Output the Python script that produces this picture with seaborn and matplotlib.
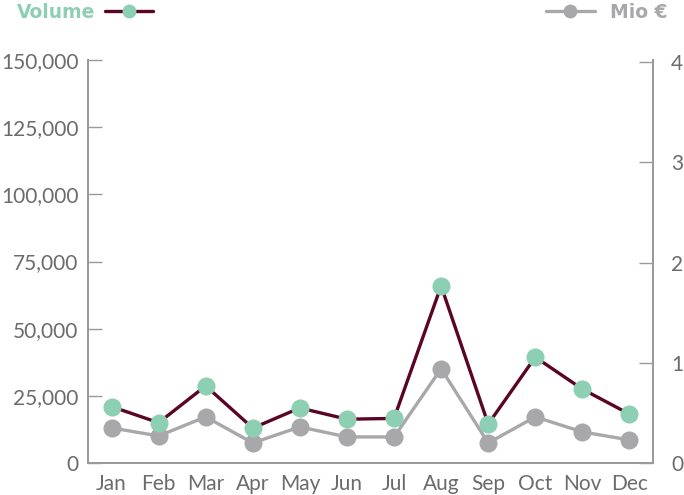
import matplotlib
matplotlib.use("Agg")
import matplotlib.pyplot as plt
import seaborn as sns
import pandas as pd
import numpy as np
from matplotlib.lines import Line2D
from matplotlib.ticker import FuncFormatter, FixedLocator

months = ["Jan", "Feb", "Mar", "Apr", "May", "Jun", "Jul", "Aug", "Sep", "Oct", "Nov", "Dec"]
volume = [21000, 15000, 28700, 13000, 20500, 16300, 16600, 65900, 14500, 39400, 27500, 18200]
mio_eur = [0.35, 0.27, 0.46, 0.20, 0.36, 0.26, 0.26, 0.94, 0.20, 0.46, 0.31, 0.23]
left_ticks = [0, 25000, 50000, 75000, 100000, 125000, 150000]
right_ticks = [0, 1, 2, 3, 4]

MAROON = "#5a0426"
MINT = "#8ccfb3"
GRAY = "#a8a8ab"
AXIS = "#9a9a9a"
TXT = "#6b6b6b"

sns.set_style("white")
plt.rcParams["font.family"] = ["Lato", "DejaVu Sans"]

df = pd.DataFrame({"month": months, "x": np.arange(len(months)),
                   "volume": volume, "mio": mio_eur})

fig = plt.figure(figsize=(6.84, 4.95), dpi=100)
ax = fig.add_axes([88/684, 1-463/495, (653-88)/684, (463-60)/495])
ax2 = ax.twinx()

sns.lineplot(data=df, x="x", y="mio", ax=ax2, color=GRAY, lw=2.4,
             marker="o", markersize=13, markeredgewidth=0, markerfacecolor=GRAY)
sns.lineplot(data=df, x="x", y="volume", ax=ax, color=MAROON, lw=2.4,
             marker="o", markersize=13, markeredgewidth=0, markerfacecolor=MINT)
ax.set_zorder(ax2.get_zorder() + 1)
ax.patch.set_visible(False)

ax.set_xlim(-0.5, 11.5)
ax.set_ylim(0, 150000)
ax2.set_ylim(0, 4.02)
ax.set_xlabel("")
ax.set_ylabel("")
ax2.set_ylabel("")

ax.set_xticks(np.arange(12))
ax.set_xticklabels(months)
ax.xaxis.set_minor_locator(FixedLocator(np.arange(0.5, 11, 1)))
ax.tick_params(axis="x", which="major", length=0, pad=8, labelsize=15, labelcolor=TXT)
ax.tick_params(axis="x", which="minor", direction="in", length=8, width=1, color="#b8b8b8")

ax.set_yticks(left_ticks)
ax.yaxis.set_major_formatter(FuncFormatter(lambda v, p: f"{int(v):,}"))
ax.tick_params(axis="y", direction="in", length=10, width=1, color=AXIS,
               labelsize=15, labelcolor=TXT, pad=7)
ax2.set_yticks(right_ticks)
ax2.tick_params(axis="y", direction="in", length=10, width=1, color=AXIS,
                labelsize=15, labelcolor=TXT, pad=13)

for a in (ax, ax2):
    a.spines["top"].set_visible(False)
    for s in ("left", "right", "bottom"):
        a.spines[s].set_color(AXIS)
        a.spines[s].set_linewidth(1.3)
    a.grid(False)

h1 = Line2D([], [], color=MAROON, lw=2.4, marker="o", markersize=10,
            markerfacecolor=MINT, markeredgewidth=0)
h2 = Line2D([], [], color=GRAY, lw=2.4, marker="o", markersize=10,
            markerfacecolor=GRAY, markeredgewidth=0)
legprop = {"family": "DejaVu Sans", "weight": "bold", "size": 13.5}
leg1 = fig.legend([h1], ["Volume"], loc="center left", bbox_to_anchor=(0.0, 0.975),
                  frameon=False, markerfirst=False, handlelength=2.6, handletextpad=0.5,
                  prop=legprop)
for t in leg1.get_texts():
    t.set_color(MINT)
leg2 = fig.legend([h2], ["Mio €"], loc="center right", bbox_to_anchor=(1.0, 0.975),
                  frameon=False, markerfirst=True, handlelength=2.6, handletextpad=0.8,
                  prop=legprop)
for t in leg2.get_texts():
    t.set_color(GRAY)

fig.savefig("out.png", dpi=100)
